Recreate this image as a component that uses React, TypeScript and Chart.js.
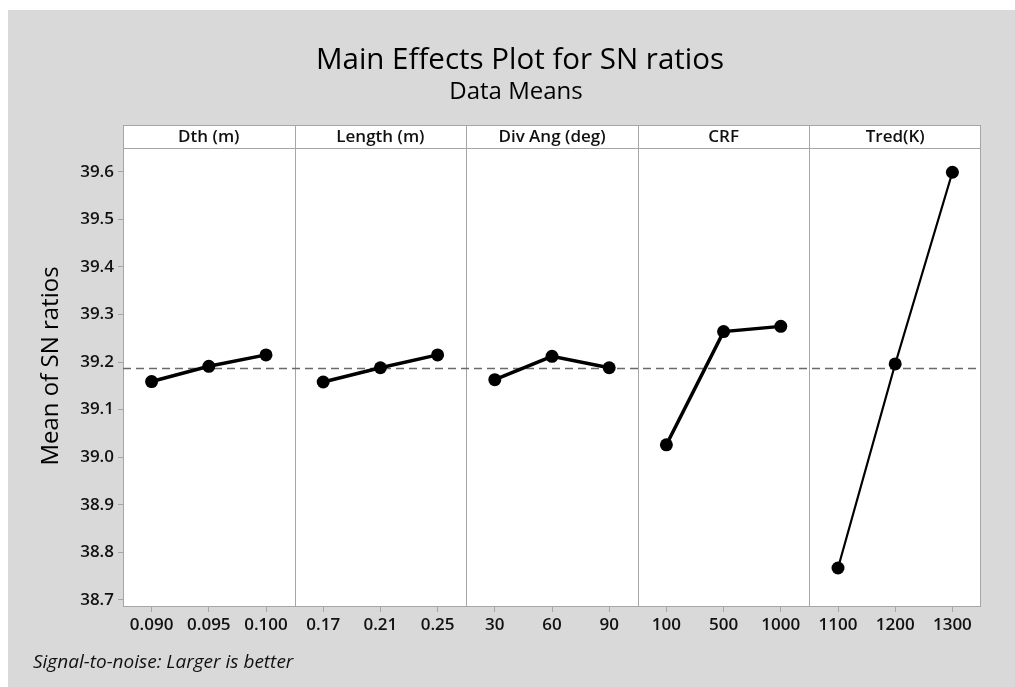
import React, { useEffect, useRef } from "react";
import { Chart, registerables } from "chart.js";

Chart.register(...registerables);

// ---- data ----
const factorNames = ["Dth (m)", "Length (m)", "Div Ang (deg)", "CRF", "Tred(K)"];
const dthLevels = ["0.090", "0.095", "0.100"];
const lengthLevels = ["0.17", "0.21", "0.25"];
const divAngLevels = ["30", "60", "90"];
const crfLevels = ["100", "500", "1000"];
const tredLevels = ["1100", "1200", "1300"];

const dthMeans = [39.159, 39.191, 39.215];
const lengthMeans = [39.158, 39.188, 39.215];
const divAngMeans = [39.163, 39.212, 39.188];
const crfMeans = [39.026, 39.264, 39.275];
const tredMeans = [38.767, 39.196, 39.599];

const yTicks = [38.7, 38.8, 38.9, 39.0, 39.1, 39.2, 39.3, 39.4, 39.5, 39.6];
const yMin = 38.685;
const yMax = 39.65;

const titleText = "Main Effects Plot for SN ratios";
const subtitleText = "Data Means";
const yTitleText = "Mean of SN ratios";
const footnoteText = "Signal-to-noise: Larger is better";

const FONT = "'Open Sans', 'Noto Sans', sans-serif";

export default function App() {
  const ref = useRef<HTMLCanvasElement | null>(null);

  useEffect(() => {
    if (!ref.current) return;
    const levelGroups = [dthLevels, lengthLevels, divAngLevels, crfLevels, tredLevels];
    const meanGroups = [dthMeans, lengthMeans, divAngMeans, crfMeans, tredMeans];
    const labels = levelGroups.flat();
    const allValues = meanGroups.flat();
    const grandMean = allValues.reduce((a, b) => a + b, 0) / allValues.length;
    const nPanels = levelGroups.length;

    const datasets = meanGroups.map((vals, i) => {
      const data: (number | null)[] = labels.map(() => null);
      vals.forEach((v, j) => {
        data[i * 3 + j] = v;
      });
      return {
        label: factorNames[i],
        data,
        borderColor: "#000",
        backgroundColor: "#000",
        borderWidth: i === 4 ? 2.2 : 3.5,
        pointRadius: 6.5,
        pointBackgroundColor: "#000",
        pointBorderColor: "#000",
        pointBorderWidth: 0,
        spanGaps: false,
        tension: 0,
      };
    });

    const framePlugin = {
      id: "minitabFrame",
      beforeDraw(chart: any) {
        const { ctx, chartArea: ca, width, height } = chart;
        ctx.save();
        ctx.fillStyle = "#d9d9d9";
        ctx.fillRect(0, 0, width, height);
        ctx.fillStyle = "#ffffff";
        ctx.fillRect(ca.left, ca.top - 23, ca.right - ca.left, ca.bottom - ca.top + 23);
        ctx.restore();
      },
      beforeDatasetsDraw(chart: any) {
        const { ctx, chartArea: ca, scales } = chart;
        const x = scales.x;
        const y = scales.y;
        const headerTop = ca.top - 23;
        ctx.save();
        ctx.strokeStyle = "#a6a6a6";
        ctx.lineWidth = 1;
        ctx.strokeRect(ca.left + 0.5, headerTop + 0.5, ca.right - ca.left - 1, ca.bottom - headerTop - 1);
        ctx.beginPath();
        ctx.moveTo(ca.left, Math.round(ca.top) + 0.5);
        ctx.lineTo(ca.right, Math.round(ca.top) + 0.5);
        ctx.stroke();
        for (let p = 1; p < nPanels; p++) {
          const px = Math.round(x.getPixelForValue(p * 3 - 0.5)) + 0.5;
          ctx.beginPath();
          ctx.moveTo(px, headerTop);
          ctx.lineTo(px, ca.bottom);
          ctx.stroke();
        }
        const my = Math.round(y.getPixelForValue(grandMean)) + 0.5;
        ctx.strokeStyle = "#6a6a6a";
        ctx.lineWidth = 1.4;
        ctx.setLineDash([8, 5]);
        ctx.beginPath();
        ctx.moveTo(ca.left, my);
        ctx.lineTo(ca.right, my);
        ctx.stroke();
        ctx.setLineDash([]);

        ctx.fillStyle = "#111";
        ctx.font = `600 17px ${FONT}`;
        ctx.textAlign = "center";
        ctx.textBaseline = "middle";
        for (let p = 0; p < nPanels; p++) {
          const cx = x.getPixelForValue(p * 3 + 1);
          ctx.fillText(factorNames[p], cx, headerTop + 12.5);
        }
        ctx.restore();
      },
      afterDraw(chart: any) {
        const { ctx } = chart;
        ctx.save();
        ctx.fillStyle = "#000";
        ctx.textAlign = "center";
        ctx.textBaseline = "alphabetic";
        ctx.font = `500 29.5px ${FONT}`;
        ctx.fillText(titleText, 512, 59);
        ctx.font = `500 24px ${FONT}`;
        ctx.fillText(subtitleText, 508, 89);
        ctx.save();
        ctx.translate(50, 356);
        ctx.rotate(-Math.PI / 2);
        ctx.font = `500 24px ${FONT}`;
        ctx.fillText(yTitleText, 0, 0);
        ctx.restore();
        ctx.fillStyle = "#111";
        ctx.textAlign = "left";
        ctx.font = `italic 400 19px ${FONT}`;
        ctx.fillText(footnoteText, 25, 658);
        ctx.restore();
      },
    };

    const chart = new Chart(ref.current, {
      type: "line",
      data: { labels, datasets },
      options: {
        animation: false,
        responsive: false,
        maintainAspectRatio: false,
        layout: { padding: { left: 55, right: 34, top: 138, bottom: 40 } },
        plugins: {
          legend: { display: false },
          tooltip: { enabled: false },
          title: { display: false },
        },
        scales: {
          x: {
            type: "category",
            offset: true,
            border: { display: false },
            grid: {
              offset: false,
              drawOnChartArea: false,
              drawTicks: true,
              tickLength: 5,
              color: "#a6a6a6",
            },
            ticks: {
              autoSkip: false,
              maxRotation: 0,
              padding: 3,
              color: "#111",
              font: { family: FONT, size: 17, weight: "600" },
            },
            afterFit(scale: any) {
              scale.height = 40;
            },
          },
          y: {
            type: "linear",
            min: yMin,
            max: yMax,
            border: { display: false },
            grid: {
              drawOnChartArea: false,
              drawTicks: true,
              tickLength: 5,
              color: "#a6a6a6",
            },
            afterBuildTicks(scale: any) {
              scale.ticks = yTicks.map((v) => ({ value: v }));
            },
            ticks: {
              padding: 4,
              color: "#111",
              font: { family: FONT, size: 17, weight: "600" },
              callback: (v: any) => Number(v).toFixed(1),
            },
            afterFit(scale: any) {
              scale.width = 60;
            },
          },
        },
      },
      plugins: [framePlugin],
    } as any);

    return () => chart.destroy();
  }, []);

  return (
    <div style={{ position: "fixed", left: 8, top: 10, width: 1007, height: 677 }}>
      <canvas ref={ref} width={1007} height={677} style={{ display: "block", width: 1007, height: 677 }} />
    </div>
  );
}
